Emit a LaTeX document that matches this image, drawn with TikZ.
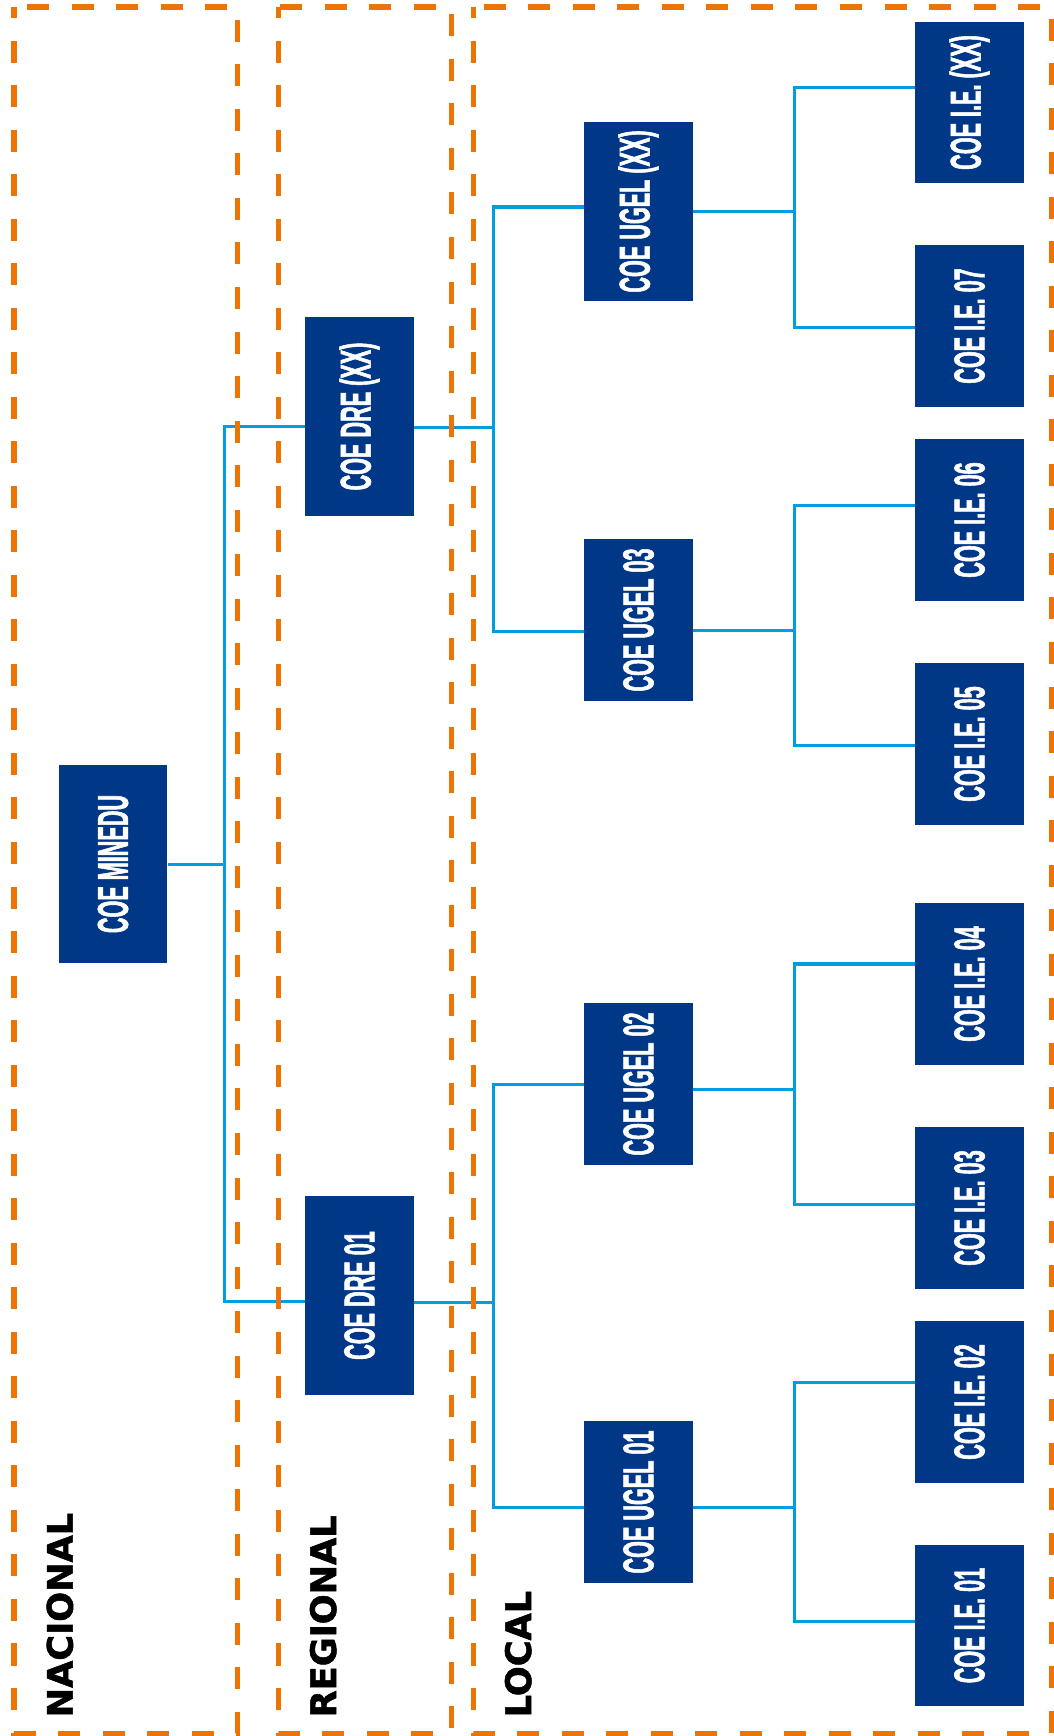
\documentclass[tikz,border=0pt]{standalone}
\usepackage{fontspec}
\usepackage{graphicx}
\newfontfamily\coefont[FakeStretch=0.5, FakeBold=1.2]{Liberation Sans Bold}
\newfontfamily\levelfont[FakeBold=1.5]{DejaVu Sans Bold}
\definecolor{coeblue}{RGB}{0,56,135}
\definecolor{linkblue}{RGB}{0,158,224}
\definecolor{frameorange}{RGB}{236,116,4}
\tikzset{
  coe/.style={fill=coeblue, text=white, inner sep=0pt, minimum width=1.08cm, minimum height=1.61cm,
    font=\coefont\fontsize{12.3}{14}\selectfont},
  link/.style={draw=linkblue, line width=0.03cm},
  frame/.style={draw=frameorange, line width=0.05cm, dash pattern=on 0.22cm off 0.225cm, dash phase=0.11cm},
  level/.style={rotate=90, anchor=base west, inner sep=0pt, font=\levelfont\fontsize{10}{12}\selectfont}
}

\begin{document}
\begin{tikzpicture}[x=0.01cm, y=-0.01cm]
\useasboundingbox (0,0) rectangle (1053,1736);
\node[coe, minimum height=1.98cm] (minedu) at (113,864) {\rotatebox{90}{COE MINEDU}};
\node[coe, minimum height=1.98cm] (drexx) at (359.5,416.5) {\rotatebox{90}{COE DRE (XX)}};
\node[coe, minimum height=1.98cm] (dre01) at (359.5,1295.5) {\rotatebox{90}{COE DRE 01}};
\node[coe, minimum height=1.79cm] (ugelxx) at (638.5,211.5) {\rotatebox{90}{COE UGEL (XX)}};
\node[coe] (ugel03) at (638.5,620) {\rotatebox{90}{COE UGEL 03}};
\node[coe] (ugel02) at (638.5,1084) {\rotatebox{90}{COE UGEL 02}};
\node[coe] (ugel01) at (638.5,1502) {\rotatebox{90}{COE UGEL 01}};
\node[coe] (iexx) at (969.5,102.5) {\rotatebox{90}{COE I.E. (XX)}};
\node[coe] (ie07) at (969.5,326) {\rotatebox{90}{COE I.E. 07}};
\node[coe] (ie06) at (969.5,520) {\rotatebox{90}{COE I.E. 06}};
\node[coe] (ie05) at (969.5,744) {\rotatebox{90}{COE I.E. 05}};
\node[coe] (ie04) at (969.5,984) {\rotatebox{90}{COE I.E. 04}};
\node[coe] (ie03) at (969.5,1208) {\rotatebox{90}{COE I.E. 03}};
\node[coe] (ie02) at (969.5,1402) {\rotatebox{90}{COE I.E. 02}};
\node[coe] (ie01) at (969.5,1625.5) {\rotatebox{90}{COE I.E. 01}};

\coordinate (t1) at (224,0);
\coordinate (t2) at (493,0);
\coordinate (t3) at (794,0);
\coordinate (j1) at (minedu.east -| t1);
\coordinate (j2) at ([yshift=-0.105cm]drexx.east -| t2);
\coordinate (j3) at ([yshift=-0.065cm]dre01.east -| t2);
\coordinate (j4) at (ugelxx.east -| t3);
\coordinate (j5) at ([yshift=-0.1cm]ugel03.east -| t3);
\coordinate (j6) at ([yshift=-0.05cm]ugel02.east -| t3);
\coordinate (j7) at ([yshift=-0.05cm]ugel01.east -| t3);

\draw[link] (minedu.east) -- (j1);
\draw[link] ([yshift=-0.095cm]drexx.west) -| (j1) |- ([yshift=-0.055cm]dre01.west);
\draw[link] ([yshift=-0.105cm]drexx.east) -- (j2);
\draw[link] ([yshift=0.045cm]ugelxx.west) -| (j2) |- ([yshift=-0.11cm]ugel03.west);
\draw[link] ([yshift=-0.065cm]dre01.east) -- (j3);
\draw[link] (ugel02.west) -| (j3) |- ([yshift=-0.05cm]ugel01.west);
\draw[link] (ugelxx.east) -- (j4);
\draw[link] ([yshift=0.15cm]iexx.west) -| (j4) |- ([yshift=-0.01cm]ie07.west);
\draw[link] ([yshift=-0.1cm]ugel03.east) -- (j5);
\draw[link] ([yshift=0.14cm]ie06.west) -| (j5) |- ([yshift=-0.01cm]ie05.west);
\draw[link] ([yshift=-0.05cm]ugel02.east) -- (j6);
\draw[link] ([yshift=0.2cm]ie04.west) -| (j6) |- ([yshift=0.04cm]ie03.west);
\draw[link] ([yshift=-0.05cm]ugel01.east) -- (j7);
\draw[link] ([yshift=0.2cm]ie02.west) -| (j7) |- ([yshift=0.045cm]ie01.west);

\draw[frame] (14,7) rectangle (237,1733);
\draw[frame] (278,7) rectangle (451,1733);
\draw[frame] (473,7) rectangle (1051,1733);

\node[level] (nacional) at (72.7,1718) {NACIONAL};
\node[level] (regional) at (336,1718) {REGIONAL};
\node[level] (local) at (531,1718) {LOCAL};
\end{tikzpicture}
\end{document}
